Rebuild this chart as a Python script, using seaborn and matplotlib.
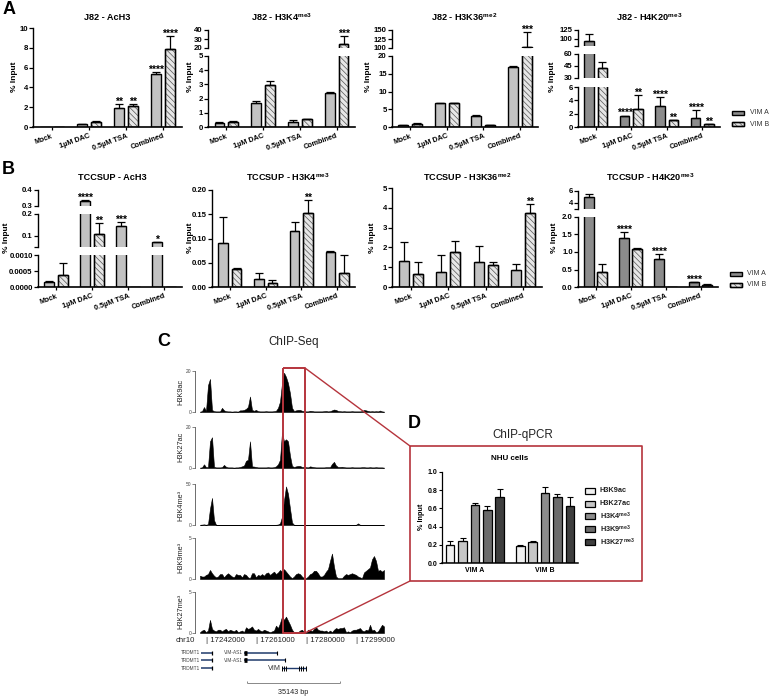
import numpy as np
import pandas as pd
import seaborn as sns
import matplotlib.pyplot as plt
from matplotlib.lines import Line2D
from matplotlib.patches import Rectangle

W, H = 770, 697

sns.set_theme(style="ticks")
plt.rcParams["font.family"] = ["Liberation Sans", "DejaVu Sans"]
plt.rcParams["mathtext.fontset"] = "custom"
plt.rcParams["mathtext.rm"] = "Liberation Sans:bold"
plt.rcParams["mathtext.default"] = "rm"
plt.rcParams["hatch.linewidth"] = 0.5
plt.rcParams["text.color"] = "black"
plt.rcParams["axes.edgecolor"] = "black"
plt.rcParams["xtick.color"] = "black"
plt.rcParams["ytick.color"] = "black"

treatments = ["Mock", "1µM DAC", "0.5µM TSA", "Combined"]
lines_vim = ["VIM A", "VIM B"]

# panel A
a1_a = [0.0, 0.28, 1.95, 5.4]
a1_b = [0.0, 0.55, 2.15, 7.9]
a1_err_a = [0, 0.03, 0.35, 0.15]
a1_err_b = [0, 0.05, 0.2, 1.25]
a1_st_a = ["", "", "**", "****"]
a1_st_b = ["", "", "**", "****"]

a2_a = [0.28, 1.72, 0.38, 2.42]
a2_b = [0.33, 2.95, 0.53, 24]
a2_err_a = [0.07, 0.12, 0.1, 0.04]
a2_err_b = [0.07, 0.32, 0.03, 9]
a2_st_a = ["", "", "", ""]
a2_st_b = ["", "", "", "***"]

a3_a = [0.5, 6.8, 3.0, 16.8]
a3_b = [0.9, 6.8, 0.6, 102]
a3_err_a = [0.1, 0.05, 0.5, 0.25]
a3_err_b = [0.2, 0.05, 0.1, 43]
a3_st_a = ["", "", "", ""]
a3_st_b = ["", "", "", "***"]

a4_a = [93, 1.7, 3.2, 1.35]
a4_b = [43, 2.7, 1.05, 0.4]
a4_err_a = [20, 0.02, 1.3, 1.2]
a4_err_b = [7, 2.1, 0.05, 0.1]
a4_st_a = ["", "****", "****", "****"]
a4_st_b = ["", "**", "**", "**"]

# panel B
b1_a = [0.00015, 0.333, 0.147, 0.071]
b1_b = [0.00037, 0.108, 0.0, 0.0]
b1_err_a = [0.00005, 0.002, 0.016, 0.001]
b1_err_b = [0.00038, 0.049, 0, 0]
b1_st_a = ["", "****", "***", "*"]
b1_st_b = ["", "**", "", ""]

b2_a = [0.09, 0.016, 0.115, 0.073]
b2_b = [0.038, 0.009, 0.152, 0.028]
b2_err_a = [0.055, 0.013, 0.02, 0.001]
b2_err_b = [0.002, 0.005, 0.028, 0.037]
b2_st_a = ["", "", "", ""]
b2_st_b = ["", "", "**", ""]

b3_a = [1.33, 0.75, 1.25, 0.88]
b3_b = [0.65, 1.75, 1.13, 3.75]
b3_err_a = [0.92, 0.85, 0.83, 0.27]
b3_err_b = [0.63, 0.58, 0.15, 0.45]
b3_st_a = ["", "", "", ""]
b3_st_b = ["", "", "", "**"]

b4_a = [5.0, 1.4, 0.8, 0.14]
b4_b = [0.43, 1.08, 0.0, 0.07]
b4_err_a = [0.55, 0.17, 0.13, 0.01]
b4_err_b = [0.22, 0.02, 0, 0.02]
b4_st_a = ["", "****", "****", "****"]
b4_st_b = ["", "", "", ""]

# panel D
marks = ["H3K9ac", "H3K27ac", "H3K4$^{me3}$", "H3K9$^{me3}$", "H3K27$^{me3}$"]
mark_colors = ["#f0f0f0", "#c6c6c6", "#8c8c8c", "#6a6a6a", "#3e3e3e"]
d_vim_a = [0.20, 0.24, 0.64, 0.585, 0.72]
d_vim_b = [0.19, 0.235, 0.77, 0.73, 0.625]
d_err_a = [0.04, 0.03, 0.02, 0.04, 0.09]
d_err_b = [0.005, 0.01, 0.06, 0.03, 0.095]

# ChIP-seq tracks, one value per 2 px bin
track_k9ac = [.2,.4,2.4,.5,13,16,1,.4,.3,.3, .3,2,.8,.4,.3,.3,.2,.3,.3,.2,
              .8,.8,1,1.5,2.5,7.5,1,.6,1,.4, .3,.3,.3,.4,.3,.3,.3,.4,.6,2,
              5,14,19,17,14,9,2,.5,.8,1, 1,.6,.4,.3,.3,.6,.5,.3,.3,.3,
              .3,.3,.4,.5,.3,.4,.8,1.2,1,.5, .4,.3,.4,.3,.3,.3,.4,.3,.3,.3,
              .3,.4,1,.8,.5,.3,.4,.3,.4,.3,.7,.3,.2]
track_k27ac = [.2,.3,1.8,.4,.5,13,15,.6,.3,.3, .3,.4,1.5,.6,.3,.3,.3,.2,.3,.3,
               .5,.8,1.2,3.5,4,13,.8,.7,.5,.3, .3,.3,.3,.3,.4,.3,.3,.4,.8,1.8,
               4,17.5,13,14,13,6,1,.5,.8,1, 1,.5,.5,.4,.3,.8,.6,.4,.3,.3,
               .3,.3,.3,.4,.4,.4,2,3,1.2,.5, .5,.6,.4,.3,.3,.3,.4,.3,.3,.3,
               .3,.4,.4,.3,.3,.4,.3,.3,.4,.3,.3,.3,.2]
track_k4me3 = [.3,.5,.8,.3,1,20,33,6,.3,.2, .2,.2,.2,.2,.2,.2,.2,.2,.2,.2,
               .2,.2,.2,.2,.2,.2,.2,.2,.2,.2, .2,.2,.2,.2,.2,.2,.2,.2,.3,.6,
               2,10,30,47,38,20,3,.3,.2,.2, .3,.3,.2,.2,.2,.2,.2,.2,.2,.2,
               .2,.2,.2,.2,.2,.2,.2,.2,.2,.2, .2,.2,.2,.2,.2,.2,.2,.2,.3,2,
               .3,.2,.2,.2,.2,.2,.2,.2,.2,.2,.2,.2,.2]
track_k9me3 = [.4,.3,.3,.5,.6,1.1,.7,.4,.2,.3, .6,.6,.2,.5,.7,.5,.3,.2,.6,.5,
               .5,.2,.6,.5,.2,.1,.7,.7,.2,.5, .4,.6,.4,.7,.8,.5,.7,.9,.6,.8,
               1.1,.9,1.2,.9,.6,.3,.1,.3,.6,.7, .6,.3,.1,.1,.3,.6,.7,1,1,.7,
               .3,.3,.5,.9,1.2,2.2,3.1,1.5,.3,.1, .1,.1,.4,.6,.5,.6,.7,.6,.5,.3,
               .2,.1,.8,1,1.2,1.4,2.4,2.8,2.2,1,1.1,.9,1.1]
track_k27me3 = [.1,.3,.4,.1,.3,1.6,.5,.3,.2,.4, .4,.2,.4,.5,.2,.4,.3,.2,.4,.1,
                .2,.3,.1,.7,.5,.6,.8,.4,.3,.5, .3,.2,.4,.3,.2,.1,.2,.3,.9,.6,
                1.2,2,1.6,2,1.5,1,.4,.1,.1,.1, .3,.4,.1,.1,.4,.4,.2,.5,.7,.4,
                .3,.3,.2,.3,.1,.3,.1,.4,.6,.5, .6,.6,.7,.1,.2,.1,.3,.4,.4,.5,
                .6,.3,.2,.4,.3,1,.3,.4,.1,.2,.6,1,.8]
genome_ticks = ["| 17242000", "| 17261000", "| 17280000", "| 17299000"]

LIGHT, DARK, HATCHED, HATCH_INK = "#c2c2c2", "#8c8c8c", "#e6e6e6", "#555555"
HATCH = "\\\\\\\\\\\\"

fig = plt.figure(figsize=(W / 100, H / 100), dpi=100, facecolor="white")


def px_axes(x0, y_top, x1, y_bot):
    return fig.add_axes([x0 / W, 1 - y_bot / H, (x1 - x0) / W, (y_bot - y_top) / H])


def fig_text(x, y, s, **kw):
    kw.setdefault("ha", "center")
    kw.setdefault("va", "center")
    return fig.text(x / W, 1 - y / H, s, **kw)


def fig_line(xs, ys, color="#b5343c", lw=1.4, **kw):
    kw.setdefault("solid_capstyle", "butt")
    fig.add_artist(Line2D([x / W for x in xs], [1 - y / H for y in ys], color=color, lw=lw, **kw))


def legend_row(x0, x1, y, h, label, text_x, fill, hatch=None, lw=1.0, **kw):
    edge = HATCH_INK if hatch else "black"
    fig.add_artist(Rectangle((x0 / W, 1 - (y + h / 2) / H), (x1 - x0) / W, h / H, transform=fig.transFigure,
                             facecolor=fill, edgecolor=edge, hatch=hatch, lw=lw))
    if hatch:
        fig.add_artist(Rectangle((x0 / W, 1 - (y + h / 2) / H), (x1 - x0) / W, h / H, transform=fig.transFigure,
                                 fill=False, edgecolor="black", lw=lw))
    fig_text(text_x, y, label, ha="left", **kw)


def bar_panel(title, tx, ty, ylx, yly, x0, x1, segments, va, vb, ea, eb, sa, sb, color_a=LIGHT):
    df = pd.DataFrame({
        "treatment": treatments * 2,
        "line": [lines_vim[0]] * 4 + [lines_vim[1]] * 4,
        "value": va + vb,
    })
    tops = []
    n = len(segments)
    for k, (low, high, yt, yb, ticks, labels) in enumerate(segments):
        ax = px_axes(x0, yt, x1, yb)
        ax.patch.set_alpha(0)
        sns.barplot(data=df, x="treatment", y="value", hue="line", hue_order=lines_vim,
                    palette=[color_a, HATCHED], width=0.75, gap=0.28, errorbar=None,
                    edgecolor="black", linewidth=1.0, legend=False, ax=ax)
        for cont, err, hatched in zip(ax.containers, (ea, eb), (False, True)):
            for bar, e in zip(cont, err):
                if hatched:
                    # hatch takes the edge colour, so the black outline goes on top
                    bar.set_hatch(HATCH)
                    bar.set_edgecolor(HATCH_INK)
                    ax.add_patch(Rectangle(bar.get_xy(), bar.get_width(), bar.get_height(),
                                           fill=False, edgecolor="black", lw=1.0))
                cx = bar.get_x() + bar.get_width() / 2
                if e > 0:
                    ax.errorbar(cx, bar.get_height(), yerr=[[0], [e]], color="black",
                                elinewidth=0.9, capsize=2.8, capthick=0.9)
        ax.set_xlim(-0.5, 3.5)
        ax.set_ylim(low, high)
        ax.set_yticks(ticks)
        ax.set_yticklabels(labels, fontsize=5.6, fontweight="bold")
        ax.set_xlabel("")
        ax.set_ylabel("")
        sns.despine(ax=ax, bottom=k < n - 1)
        ax.tick_params(axis="y", length=3, width=0.9, pad=0.8)
        ax.spines["left"].set_linewidth(1.0)
        ax.spines["bottom"].set_linewidth(1.2)
        if k < n - 1:
            ax.set_xticks([])
        else:
            ax.tick_params(axis="x", length=2.5, width=0.9, pad=1.5)
            ax.set_xticks(range(4))
            ax.set_xticklabels(treatments, fontsize=5.2, fontweight="bold", rotation=20,
                               ha="right", rotation_mode="anchor")
        tops.append((ax, low, high))
    # stars go in whichever segment holds the top of the error bar
    ref = tops[-1][0]
    for j, (vals, errs, stars) in enumerate(((va, ea, sa), (vb, eb, sb))):
        for i, s in enumerate(stars):
            if not s:
                continue
            bar = ref.containers[j][i]
            cx = bar.get_x() + bar.get_width() / 2
            top = vals[i] + errs[i]
            for ax, low, high in tops:
                if low <= top <= high:
                    ax.annotate(s, (cx, top), xytext=(0, -2), textcoords="offset points",
                                ha="center", va="bottom", fontsize=7.5, fontweight="bold",
                                annotation_clip=False)
                    break
    fig_text(tx, ty, title, fontsize=6.6, fontweight="bold")
    fig_text(ylx, yly, "% Input", fontsize=6, fontweight="bold", rotation=90)


def vim_legend(x, ys, tx):
    legend_row(x, x + 12, ys[0], 4, lines_vim[0], tx, DARK, fontsize=5, color="#333333")
    legend_row(x, x + 12, ys[1], 4, lines_vim[1], tx, HATCHED, hatch=HATCH, fontsize=5, color="#333333")


# panel A charts
bar_panel("J82 - AcH3", 107, 17, 15, 77, 33, 182,
          [(0, 10, 28, 127, [0, 2, 4, 6, 8, 10], ["0", "2", "4", "6", "8", "10"])],
          a1_a, a1_b, a1_err_a, a1_err_b, a1_st_a, a1_st_b)
bar_panel("J82 - H3K4$^{me3}$", 282, 17, 190, 77, 208, 355,
          [(20, 40, 30, 48, [20, 30, 40], ["20", "30", "40"]),
           (0, 5, 56, 127, [0, 1, 2, 3, 4, 5], ["0", "1", "2", "3", "4", "5"])],
          a2_a, a2_b, a2_err_a, a2_err_b, a2_st_a, a2_st_b)
bar_panel("J82 - H3K36$^{me2}$", 464, 17, 368, 77, 392, 538,
          [(100, 150, 30, 48, [100, 125, 150], ["100", "125", "150"]),
           (0, 20, 56, 127, [0, 5, 10, 15, 20], ["0", "5", "10", "15", "20"])],
          a3_a, a3_b, a3_err_a, a3_err_b, a3_st_a, a3_st_b)
bar_panel("J82 - H4K20$^{me3}$", 649, 17, 553, 77, 578, 720,
          [(79, 125, 30, 46, [79, 100, 125], ["", "100", "125"]),
           (30, 60, 54, 78, [30, 45, 60], ["30", "45", "60"]),
           (0, 6, 87, 127, [0, 2, 4, 6], ["0", "2", "4", "6"])],
          a4_a, a4_b, a4_err_a, a4_err_b, a4_st_a, a4_st_b, color_a=DARK)
vim_legend(732, (113, 124), 750)

# panel B charts
bar_panel("TCCSUP - AcH3", 112, 177, 6, 238, 38, 182,
          [(0.3, 0.4, 190, 206, [0.3, 0.4], ["0.3", "0.4"]),
           (0.05, 0.2, 214, 247, [0.05, 0.1, 0.2], ["", "0.1", "0.2"]),
           (0, 0.001, 255, 287, [0, 0.0005, 0.001], ["0.0000", "0.0005", "0.0010"])],
          b1_a, b1_b, b1_err_a, b1_err_b, b1_st_a, b1_st_b)
bar_panel("TCCSUP - H3K4$^{me3}$", 288, 177, 190, 238, 212, 355,
          [(0, 0.2, 190, 287, [0, 0.05, 0.1, 0.15, 0.2], ["0.00", "0.05", "0.10", "0.15", "0.20"])],
          b2_a, b2_b, b2_err_a, b2_err_b, b2_st_a, b2_st_b)
bar_panel("TCCSUP - H3K36$^{me2}$", 467, 177, 372, 238, 392, 542,
          [(0, 5, 188, 287, [0, 1, 2, 3, 4, 5], ["0", "1", "2", "3", "4", "5"])],
          b3_a, b3_b, b3_err_a, b3_err_b, b3_st_a, b3_st_b)
bar_panel("TCCSUP - H4K20$^{me3}$", 650, 177, 555, 238, 578, 718,
          [(3, 6, 191, 209, [3, 4, 6], ["", "4", "6"]),
           (0, 2, 217, 287, [0, 0.5, 1, 1.5, 2], ["0.0", "0.5", "1.0", "1.5", "2.0"])],
          b4_a, b4_b, b4_err_a, b4_err_b, b4_st_a, b4_st_b, color_a=DARK)
vim_legend(730, (274, 285), 747)

# panel letters
fig_text(9, 10, "A", fontsize=13, fontweight="bold")
fig_text(8, 169, "B", fontsize=13, fontweight="bold")
fig_text(164, 341, "C", fontsize=13, fontweight="bold")
fig_text(414, 424, "D", fontsize=13, fontweight="bold")

# panel C tracks
track_specs = [
    ("H3K9ac", track_k9ac, 20, 370.7, 412, 392),
    ("H3K27ac", track_k27ac, 20, 427, 468, 447),
    ("H3K4me³", track_k4me3, 50, 484, 525, 505),
    ("H3K9me³", track_k9me3, 5, 538, 579, 557),
    ("H3K27me³", track_k27me3, 5, 592, 633, 611),
]
for name, vals, top, yt, yb, ly in track_specs:
    ax = px_axes(195, yt, 386, yb)
    ax.patch.set_alpha(0)
    ax.fill_between(np.arange(len(vals)), vals, color="black", lw=0.4)
    ax.set_xlim(-2.5, 93)
    ax.set_ylim(0, top)
    ax.set_xticks([])
    ax.set_yticks([0, top])
    ax.set_yticklabels(["0", str(top)], fontsize=3.5, color="#444444")
    ax.tick_params(axis="y", length=2, width=0.5, pad=0.8, color="#555555")
    sns.despine(ax=ax, bottom=True)
    ax.spines["left"].set_linewidth(0.6)
    ax.spines["left"].set_color("#555555")
    fig_text(181, ly, name, fontsize=5.3, rotation=90, color="#222222")

fig_text(294, 342, "ChIP-Seq", fontsize=8.4, color="#222222")
fig_text(523, 435, "ChIP-qPCR", fontsize=8.4, color="#222222")

# genome axis labels and gene models
fig_text(185, 640, "chr10", fontsize=5.6, color="#222222")
for tx, lab in zip((206, 256, 306, 356), genome_ticks):
    fig_text(tx, 640, lab, fontsize=5.6, ha="left", color="#222222")

GENE = "#1f3a6b"
for y in (652.7, 660.3, 668.3):
    fig_text(181, y, "TRDMT1", fontsize=3.4, ha="left", color="#444444")
    fig_line([201, 212], [y, y], color=GENE, lw=1.1)
    fig_line([212, 212], [y - 2, y + 2], color="black", lw=0.9)
for y, xe in ((652.7, 277), (660.3, 285)):
    fig_text(224, y, "VIM-AS1", fontsize=3.4, ha="left", color="#444444")
    fig_line([244, xe], [y, y], color=GENE, lw=1.1)
    fig_line([244, 247], [y, y], color="black", lw=3.4)
    fig_line([xe, xe], [y - 2, y + 2], color="black", lw=0.8)
fig_text(268, 668.3, "VIM", fontsize=5.2, ha="left", color="#333333")
fig_line([282, 306], [668.3, 668.3], color=GENE, lw=1.0)
for xt in (282, 284, 286, 299, 301, 303, 305.5):
    fig_line([xt, xt], [666, 670.6], color="black", lw=0.7)

fig_line([247.3, 340], [683, 683], color="#888888", lw=0.7)
fig_line([247.3, 247.3], [680.5, 683], color="#888888", lw=0.7)
fig_line([340, 340], [680.5, 683], color="#888888", lw=0.7)
fig_text(293.5, 692, "35143 bp", fontsize=5.2, color="#222222")

# panel D chart
df_d = pd.DataFrame({
    "group": ["VIM A"] * 5 + ["VIM B"] * 5,
    "mark": marks * 2,
    "value": d_vim_a + d_vim_b,
})
ax_d = px_axes(442, 472, 578, 563)
sns.barplot(data=df_d, x="group", y="value", hue="mark", hue_order=marks, palette=mark_colors,
            width=0.885, gap=0.3, errorbar=None, edgecolor="black", linewidth=0.9, legend=False, ax=ax_d)
for cont, err_pair in zip(ax_d.containers, zip(d_err_a, d_err_b)):
    for bar, e in zip(cont, err_pair):
        ax_d.errorbar(bar.get_x() + bar.get_width() / 2, bar.get_height(), yerr=[[0], [e]],
                      color="black", elinewidth=0.8, capsize=2.3, capthick=0.8)
ax_d.set_xlim(-0.47, 1.47)
ax_d.set_ylim(0, 1.0)
ax_d.set_yticks([0, 0.2, 0.4, 0.6, 0.8, 1.0])
ax_d.set_yticklabels(["0.0", "0.2", "0.4", "0.6", "0.8", "1.0"], fontsize=5, fontweight="bold")
ax_d.set_xticks([0, 1])
ax_d.set_xticklabels(["VIM A", "VIM B"], fontsize=5, fontweight="bold")
ax_d.set_xlabel("")
ax_d.set_ylabel("")
ax_d.tick_params(axis="y", length=2.5, width=0.8, pad=0.8)
ax_d.tick_params(axis="x", length=0, pad=3)
sns.despine(ax=ax_d)
ax_d.spines["left"].set_linewidth(0.9)
ax_d.spines["bottom"].set_linewidth(1.1)
fig_text(510, 459, "NHU cells", fontsize=5.8, fontweight="bold")
fig_text(422, 517, "% Input", fontsize=5.2, fontweight="bold", rotation=90)

for i, (m, c) in enumerate(zip(marks, mark_colors)):
    legend_row(585, 595, 490.7 + 12.8 * i, 6, m, 600, c, lw=0.9, fontsize=5.3, fontweight="bold", color="#222222")

# red zoom box and connectors
RED = "#b5343c"
fig_line([283, 305, 305, 283, 283], [368, 368, 633, 633, 368], color=RED, lw=1.4)
fig_line([305, 410], [368, 446], color=RED, lw=1.0)
fig_line([305, 410], [633, 581], color=RED, lw=1.0)
fig_line([410, 642, 642, 410, 410], [446, 446, 581, 581, 446], color=RED, lw=1.2)

fig.savefig("out.png", dpi=100)
